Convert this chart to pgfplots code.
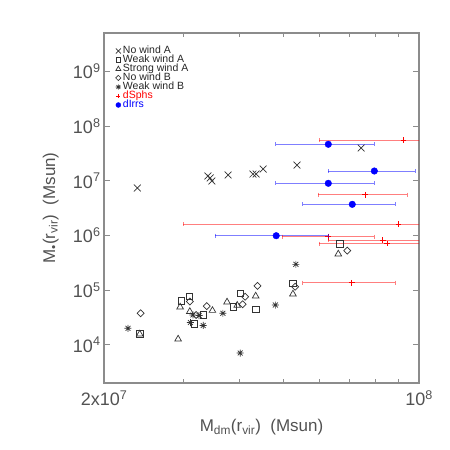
\documentclass[border=0pt]{standalone}
\usepackage{fontspec}
\setmainfont{Liberation Sans}
\usepackage{pgfplots}
\pgfplotsset{compat=1.18}
\definecolor{axgray}{gray}{0.55}
\definecolor{txtgray}{gray}{0.32}
\definecolor{mk}{gray}{0.2}

% IDL-like plot symbols
\pgfdeclareplotmark{idlx}{%
  \pgfpathmoveto{\pgfqpoint{-\pgfplotmarksize}{-\pgfplotmarksize}}%
  \pgfpathlineto{\pgfqpoint{\pgfplotmarksize}{\pgfplotmarksize}}%
  \pgfpathmoveto{\pgfqpoint{-\pgfplotmarksize}{\pgfplotmarksize}}%
  \pgfpathlineto{\pgfqpoint{\pgfplotmarksize}{-\pgfplotmarksize}}%
  \pgfusepathqstroke}
\pgfdeclareplotmark{idldia}{%
  \pgfpathmoveto{\pgfqpoint{0pt}{\pgfplotmarksize}}%
  \pgfpathlineto{\pgfqpoint{\pgfplotmarksize}{0pt}}%
  \pgfpathlineto{\pgfqpoint{0pt}{-\pgfplotmarksize}}%
  \pgfpathlineto{\pgfqpoint{-\pgfplotmarksize}{0pt}}%
  \pgfpathclose\pgfusepathqstroke}
\pgfdeclareplotmark{idlast}{%
  \pgfpathmoveto{\pgfqpoint{-\pgfplotmarksize}{0pt}}%
  \pgfpathlineto{\pgfqpoint{\pgfplotmarksize}{0pt}}%
  \pgfpathmoveto{\pgfqpoint{0pt}{-\pgfplotmarksize}}%
  \pgfpathlineto{\pgfqpoint{0pt}{\pgfplotmarksize}}%
  \pgfpathmoveto{\pgfqpoint{-.7\pgfplotmarksize}{-.7\pgfplotmarksize}}%
  \pgfpathlineto{\pgfqpoint{.7\pgfplotmarksize}{.7\pgfplotmarksize}}%
  \pgfpathmoveto{\pgfqpoint{-.7\pgfplotmarksize}{.7\pgfplotmarksize}}%
  \pgfpathlineto{\pgfqpoint{.7\pgfplotmarksize}{-.7\pgfplotmarksize}}%
  \pgfusepathqstroke}

\pgfplotsset{simleg/.style={only marks,
  legend image code/.code={\draw[##1, every mark/.append style={scale=0.75}] plot coordinates {(2.5pt,0pt)};}}}

\begin{document}
\begin{tikzpicture}
\useasboundingbox (-104pt,-67pt) rectangle (346pt,383pt);
\begin{axis}[
    at={(0pt,0pt)}, anchor=south west,
    scale only axis, width=315pt, height=350pt,
    xmode=log, ymode=log,
    xmin=2e7, xmax=1e8, ymin=2e3, ymax=5e9,
    xtick={2e7,1e8},
    xticklabels={2x10\textsuperscript{7},10\textsuperscript{8}},
    minor xtick={3e7,4e7,5e7,6e7,7e7,8e7,9e7},
    ytick={1e4,1e5,1e6,1e7,1e8,1e9},
    yticklabels={10\textsuperscript{4},10\textsuperscript{5},10\textsuperscript{6},10\textsuperscript{7},10\textsuperscript{8},10\textsuperscript{9}},
    yminorticks=false,
    tick align=inside,
    major tick length=6pt, minor tick length=4pt,
    axis line style={axgray, line width=1.2pt},
    tick style={axgray, line width=0.8pt},
    ticklabel style={font=\fontsize{18}{18}\selectfont, text=txtgray},
    xticklabel style={yshift=-4pt},
    xlabel={M\textsubscript{dm}(r\textsubscript{vir})\ \ (Msun)},
    ylabel={M\textsubscript{\textbullet}(r\textsubscript{vir})\ \ (Msun)},
    label style={font=\fontsize{17}{17}\selectfont, text=txtgray},
    xlabel style={at={(axis description cs:0.5,-0.14)}, anchor=base},
    ylabel style={at={(axis description cs:-0.1556,0.5)}, anchor=base},
    legend style={at={(0.0365,0.962)}, anchor=north west, draw=none, fill=none,
        inner sep=0pt, font=\fontsize{10.5}{10.5}\selectfont, text=black!85,
        row sep=0pt, column sep=2pt,
        nodes={inner sep=0pt, text height=7pt, text depth=2pt}},
    legend cell align=left,
]
% simulated galaxies
\addplot[simleg, mk, mark=idlx, mark size=3.4pt, line width=0.7pt] table {
x y
2.37e7 7.34e6
3.40e7 1.22e7
3.44e7 1.12e7
3.47e7 9.85e6
3.77e7 1.27e7
4.28e7 1.32e7
4.35e7 1.32e7
4.51e7 1.63e7
5.36e7 1.93e7
7.44e7 3.95e7
};
\addlegendentry{No wind A}
\addplot[simleg, mk, mark=square, mark size=3.3pt, line width=0.7pt] table {
x y
2.40e7 1.57e4
2.97e7 6.38e4
3.09e7 7.62e4
3.17e7 2.39e4
3.32e7 3.50e4
3.87e7 4.96e4
4.01e7 8.71e4
4.35e7 4.44e4
5.24e7 1.32e5
6.68e7 6.94e5
};
\addlegendentry{Weak wind A}
\addplot[simleg, mk, mark=triangle, mark size=3.8pt, line width=0.7pt] table {
x y
2.40e7 1.57e4
2.92e7 1.27e4
2.95e7 4.90e4
3.10e7 4.05e4
3.48e7 4.23e4
3.75e7 6.04e4
3.95e7 5.26e4
4.34e7 7.78e4
5.25e7 8.46e4
6.62e7 4.56e5
};
\addlegendentry{Strong wind A}
\addplot[simleg, mk, mark=idldia, mark size=3.5pt, line width=0.7pt] table {
x y
2.41e7 3.76e4
3.10e7 6.17e4
3.20e7 3.50e4
3.38e7 5.11e4
4.06e7 5.49e4
4.11e7 7.55e4
4.38e7 1.19e5
5.31e7 1.15e5
6.93e7 5.24e5
};
\addlegendentry{No wind B}
\addplot[simleg, mk, mark=idlast, mark size=3.5pt, line width=0.7pt] table {
x y
2.26e7 2.00e4
3.11e7 2.55e4
3.15e7 3.50e4
3.25e7 3.42e4
3.32e7 2.25e4
3.67e7 3.76e4
4.01e7 7.06e3
4.80e7 5.33e4
5.33e7 2.95e5
};
\addlegendentry{Weak wind B}
% dSphs: horizontal error bars (low, high) and centres
\addplot[red, draw opacity=0.5, line width=0.8pt, mark=|, mark size=2pt,
    mark options={opacity=0.5}, unbounded coords=jump, forget plot] table {
x y
6.01e7 5.53e7
1.42e8 5.53e7
nan nan
5.98e7 5.53e6
9.42e7 5.53e6
nan nan
3.00e7 1.61e6
2.70e8 1.61e6
nan nan
4.97e7 9.44e5
7.96e7 9.44e5
nan nan
6.29e7 8.21e5
1.10e8 8.21e5
nan nan
6.00e7 7.09e5
1.21e8 7.09e5
nan nan
5.52e7 1.36e5
8.85e7 1.36e5
};
\addplot[simleg, red, mark=+, mark size=2.8pt, line width=0.8pt] table {
x y
9.23e7 5.53e7
7.59e7 5.53e6
9.00e7 1.61e6
6.29e7 9.44e5
8.31e7 8.21e5
8.50e7 7.09e5
7.09e7 1.36e5
};
\addlegendentry{\textcolor{red}{dSphs}}
% dIrrs: horizontal error bars (low, high) and centres
\addplot[blue, draw opacity=0.5, line width=0.8pt, mark=|, mark size=2pt,
    mark options={opacity=0.5}, unbounded coords=jump, forget plot] table {
x y
4.81e7 4.62e7
7.96e7 4.62e7
nan nan
6.29e7 1.50e7
9.81e7 1.50e7
nan nan
4.81e7 8.94e6
7.96e7 8.94e6
nan nan
5.52e7 3.69e6
8.85e7 3.69e6
nan nan
3.53e7 9.85e5
6.29e7 9.85e5
};
\addplot[simleg, blue, mark=*, mark size=3.3pt, mark options={fill=blue}] table {
x y
6.29e7 4.62e7
7.96e7 1.50e7
6.29e7 8.94e6
7.11e7 3.69e6
4.82e7 9.85e5
};
\addlegendentry{\textcolor{blue}{dIrrs}}
\end{axis}
\end{tikzpicture}
\end{document}
